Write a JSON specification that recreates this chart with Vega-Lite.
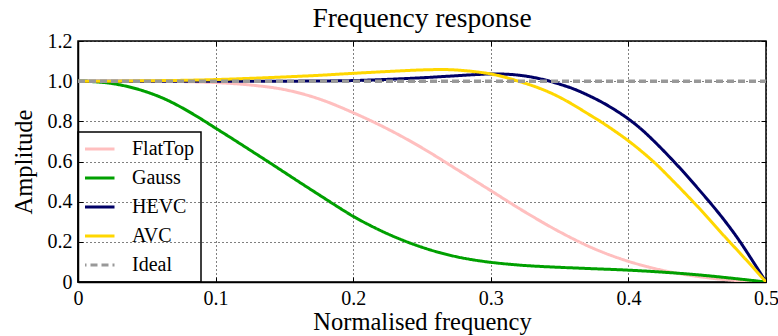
{
  "$schema": "https://vega.github.io/schema/vega-lite/v6.json",
  "width": 688,
  "height": 241,
  "autosize": {"type": "none"},
  "padding": {"left": 78, "top": 41, "right": 12, "bottom": 54},
  "title": {"text": "Frequency response", "font": "Liberation Serif", "fontSize": 27.5, "fontWeight": "normal", "color": "black", "anchor": "middle", "offset": -1},
  "data": {"values": [
    {"f": 0, "s": "FlatTop", "a": 1.0}, {"f": 0.025, "s": "FlatTop", "a": 1.0}, {"f": 0.05, "s": "FlatTop", "a": 1.0}, {"f": 0.075, "s": "FlatTop", "a": 0.998}, {"f": 0.1, "s": "FlatTop", "a": 0.993}, {"f": 0.125, "s": "FlatTop", "a": 0.981}, {"f": 0.15, "s": "FlatTop", "a": 0.958}, {"f": 0.175, "s": "FlatTop", "a": 0.912}, {"f": 0.2, "s": "FlatTop", "a": 0.843}, {"f": 0.225, "s": "FlatTop", "a": 0.762}, {"f": 0.25, "s": "FlatTop", "a": 0.668}, {"f": 0.275, "s": "FlatTop", "a": 0.562}, {"f": 0.3, "s": "FlatTop", "a": 0.455}, {"f": 0.325, "s": "FlatTop", "a": 0.348}, {"f": 0.35, "s": "FlatTop", "a": 0.25}, {"f": 0.375, "s": "FlatTop", "a": 0.166}, {"f": 0.4, "s": "FlatTop", "a": 0.103}, {"f": 0.425, "s": "FlatTop", "a": 0.058}, {"f": 0.45, "s": "FlatTop", "a": 0.028}, {"f": 0.475, "s": "FlatTop", "a": 0.009}, {"f": 0.5, "s": "FlatTop", "a": 0.0},
    {"f": 0, "s": "Gauss", "a": 1.0}, {"f": 0.0125, "s": "Gauss", "a": 0.997}, {"f": 0.025, "s": "Gauss", "a": 0.988}, {"f": 0.0375, "s": "Gauss", "a": 0.971}, {"f": 0.05, "s": "Gauss", "a": 0.946}, {"f": 0.0625, "s": "Gauss", "a": 0.913}, {"f": 0.075, "s": "Gauss", "a": 0.87}, {"f": 0.0875, "s": "Gauss", "a": 0.82}, {"f": 0.1, "s": "Gauss", "a": 0.766}, {"f": 0.1125, "s": "Gauss", "a": 0.712}, {"f": 0.125, "s": "Gauss", "a": 0.657}, {"f": 0.1375, "s": "Gauss", "a": 0.602}, {"f": 0.15, "s": "Gauss", "a": 0.546}, {"f": 0.1625, "s": "Gauss", "a": 0.49}, {"f": 0.175, "s": "Gauss", "a": 0.435}, {"f": 0.1875, "s": "Gauss", "a": 0.38}, {"f": 0.2, "s": "Gauss", "a": 0.327}, {"f": 0.2125, "s": "Gauss", "a": 0.281}, {"f": 0.225, "s": "Gauss", "a": 0.24}, {"f": 0.2375, "s": "Gauss", "a": 0.204}, {"f": 0.25, "s": "Gauss", "a": 0.173}, {"f": 0.2625, "s": "Gauss", "a": 0.147}, {"f": 0.275, "s": "Gauss", "a": 0.126}, {"f": 0.2875, "s": "Gauss", "a": 0.11}, {"f": 0.3, "s": "Gauss", "a": 0.098}, {"f": 0.3125, "s": "Gauss", "a": 0.089}, {"f": 0.325, "s": "Gauss", "a": 0.082}, {"f": 0.3375, "s": "Gauss", "a": 0.077}, {"f": 0.35, "s": "Gauss", "a": 0.073}, {"f": 0.375, "s": "Gauss", "a": 0.066}, {"f": 0.4, "s": "Gauss", "a": 0.059}, {"f": 0.425, "s": "Gauss", "a": 0.049}, {"f": 0.45, "s": "Gauss", "a": 0.036}, {"f": 0.475, "s": "Gauss", "a": 0.019}, {"f": 0.5, "s": "Gauss", "a": 0.0},
    {"f": 0, "s": "HEVC", "a": 1.0}, {"f": 0.1, "s": "HEVC", "a": 1.0}, {"f": 0.15, "s": "HEVC", "a": 1.0}, {"f": 0.175, "s": "HEVC", "a": 1.001}, {"f": 0.2, "s": "HEVC", "a": 1.003}, {"f": 0.225, "s": "HEVC", "a": 1.009}, {"f": 0.25, "s": "HEVC", "a": 1.017}, {"f": 0.275, "s": "HEVC", "a": 1.027}, {"f": 0.29, "s": "HEVC", "a": 1.033}, {"f": 0.3, "s": "HEVC", "a": 1.036}, {"f": 0.31, "s": "HEVC", "a": 1.035}, {"f": 0.32, "s": "HEVC", "a": 1.03}, {"f": 0.33, "s": "HEVC", "a": 1.02}, {"f": 0.34, "s": "HEVC", "a": 1.005}, {"f": 0.35, "s": "HEVC", "a": 0.985}, {"f": 0.36, "s": "HEVC", "a": 0.962}, {"f": 0.37, "s": "HEVC", "a": 0.932}, {"f": 0.38, "s": "HEVC", "a": 0.898}, {"f": 0.39, "s": "HEVC", "a": 0.858}, {"f": 0.4, "s": "HEVC", "a": 0.812}, {"f": 0.41, "s": "HEVC", "a": 0.757}, {"f": 0.42, "s": "HEVC", "a": 0.692}, {"f": 0.43, "s": "HEVC", "a": 0.622}, {"f": 0.44, "s": "HEVC", "a": 0.548}, {"f": 0.45, "s": "HEVC", "a": 0.47}, {"f": 0.46, "s": "HEVC", "a": 0.39}, {"f": 0.47, "s": "HEVC", "a": 0.305}, {"f": 0.48, "s": "HEVC", "a": 0.212}, {"f": 0.49, "s": "HEVC", "a": 0.108}, {"f": 0.5, "s": "HEVC", "a": 0.0},
    {"f": 0, "s": "AVC", "a": 1.0}, {"f": 0.025, "s": "AVC", "a": 1.0}, {"f": 0.05, "s": "AVC", "a": 1.002}, {"f": 0.075, "s": "AVC", "a": 1.004}, {"f": 0.1, "s": "AVC", "a": 1.008}, {"f": 0.125, "s": "AVC", "a": 1.014}, {"f": 0.15, "s": "AVC", "a": 1.021}, {"f": 0.175, "s": "AVC", "a": 1.029}, {"f": 0.2, "s": "AVC", "a": 1.039}, {"f": 0.225, "s": "AVC", "a": 1.048}, {"f": 0.25, "s": "AVC", "a": 1.056}, {"f": 0.265, "s": "AVC", "a": 1.058}, {"f": 0.28, "s": "AVC", "a": 1.053}, {"f": 0.29, "s": "AVC", "a": 1.046}, {"f": 0.3, "s": "AVC", "a": 1.036}, {"f": 0.31, "s": "AVC", "a": 1.02}, {"f": 0.32, "s": "AVC", "a": 1.0}, {"f": 0.33, "s": "AVC", "a": 0.978}, {"f": 0.34, "s": "AVC", "a": 0.952}, {"f": 0.35, "s": "AVC", "a": 0.92}, {"f": 0.36, "s": "AVC", "a": 0.882}, {"f": 0.37, "s": "AVC", "a": 0.84}, {"f": 0.38, "s": "AVC", "a": 0.798}, {"f": 0.39, "s": "AVC", "a": 0.752}, {"f": 0.4, "s": "AVC", "a": 0.703}, {"f": 0.41, "s": "AVC", "a": 0.648}, {"f": 0.42, "s": "AVC", "a": 0.588}, {"f": 0.43, "s": "AVC", "a": 0.52}, {"f": 0.44, "s": "AVC", "a": 0.45}, {"f": 0.45, "s": "AVC", "a": 0.378}, {"f": 0.46, "s": "AVC", "a": 0.303}, {"f": 0.47, "s": "AVC", "a": 0.226}, {"f": 0.48, "s": "AVC", "a": 0.152}, {"f": 0.49, "s": "AVC", "a": 0.077}, {"f": 0.5, "s": "AVC", "a": 0.0},
    {"f": 0, "s": "Ideal", "a": 1.0}, {"f": 0.5, "s": "Ideal", "a": 1.0}
  ]},
  "encoding": {
    "color": {"field": "s", "type": "nominal", "title": null,
      "scale": {"domain": ["FlatTop", "Gauss", "HEVC", "AVC", "Ideal"], "range": ["#ffbfbf", "#00a000", "#000066", "#ffd700", "#999999"]}},
    "strokeDash": {"field": "s", "type": "nominal", "title": null,
      "scale": {"domain": ["FlatTop", "Gauss", "HEVC", "AVC", "Ideal"], "range": [[1, 0], [1, 0], [1, 0], [1, 0], [7, 4]]}}
  },
  "layer": [
    {
      "transform": [{"filter": "datum.s != 'Ideal'"}],
      "mark": {"type": "line", "strokeWidth": 3, "interpolate": "monotone", "clip": true},
      "encoding": {
        "x": {"field": "f", "type": "quantitative", "title": "Normalised frequency",
          "scale": {"domain": [0, 0.5], "nice": false},
          "axis": {"values": [0, 0.1, 0.2, 0.3, 0.4, 0.5], "labelExpr": "datum.value == 0 ? '0' : format(datum.value, '.1f')", "titlePadding": 2}},
        "y": {"field": "a", "type": "quantitative", "title": "Amplitude",
          "scale": {"domain": [0, 1.2], "nice": false, "zero": false},
          "axis": {"values": [0, 0.2, 0.4, 0.6, 0.8, 1.0, 1.2], "labelExpr": "datum.value == 0 ? '0' : format(datum.value, '.1f')", "titlePadding": 11}}
      }
    },
    {
      "transform": [{"filter": "datum.s == 'Ideal'"}],
      "mark": {"type": "line", "strokeWidth": 3.5, "clip": true},
      "encoding": {
        "x": {"field": "f", "type": "quantitative",
          "axis": {"orient": "top", "values": [0, 0.1, 0.2, 0.3, 0.4, 0.5], "labels": false, "title": null, "grid": false, "domain": false}},
        "y": {"field": "a", "type": "quantitative",
          "axis": {"orient": "right", "values": [0, 0.2, 0.4, 0.6, 0.8, 1.0, 1.2], "labels": false, "title": null, "grid": false, "domain": false}}
      }
    }
  ],
  "resolve": {"axis": {"x": "independent", "y": "independent"}},
  "config": {
    "font": "Liberation Serif",
    "view": {"stroke": "black", "strokeWidth": 1.5},
    "axis": {
      "labelFont": "Liberation Serif", "labelFontSize": 20, "labelColor": "black",
      "titleFont": "Liberation Serif", "titleFontSize": 24.5, "titleFontWeight": "normal", "titleColor": "black",
      "domainColor": "black", "domainWidth": 1.5,
      "grid": true, "gridColor": "black", "gridDash": [1, 3], "gridWidth": 1, "gridOpacity": 1,
      "tickColor": "black", "tickSize": -5, "tickWidth": 1, "labelPadding": 11,
      "labelFlush": false, "labelOverlap": false
    },
    "legend": {
      "orient": "bottom-left", "offset": 0, "strokeColor": "black", "strokeWidth": 1.5,
      "padding": 7, "symbolOffset": -7, "labelOffset": 16, "symbolSize": 1225, "symbolStrokeWidth": 3,
      "symbolType": "stroke", "clipHeight": 20, "rowPadding": 9,
      "labelFont": "Liberation Serif", "labelFontSize": 20, "labelColor": "black"
    }
  }
}
